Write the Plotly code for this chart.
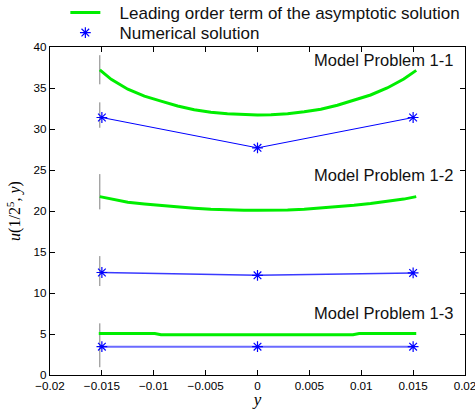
import plotly.graph_objects as go

# ---- data ----
y_num = [-0.015, 0.0, 0.015]
u_num_11 = [31.4, 27.7, 31.4]
u_num_12 = [12.5, 12.15, 12.45]
u_num_13 = [3.45, 3.45, 3.45]

y_asym = [-0.0152, -0.0141, -0.0125, -0.0109, -0.0093, -0.0077, -0.0061, -0.0045,
          -0.0029, -0.0013, 0.0, 0.0013, 0.0029, 0.0045, 0.0061, 0.0077,
          0.0093, 0.0109, 0.0125, 0.0141, 0.0153]
u_asym_11 = [37.2, 36.05, 34.85, 34.0, 33.4, 32.8, 32.35, 32.05,
             31.85, 31.75, 31.72, 31.75, 31.87, 32.1, 32.42, 32.9,
             33.5, 34.15, 35.0, 36.1, 37.15]
u_asym_12 = [21.75, 21.45, 21.06, 20.85, 20.65, 20.48, 20.33, 20.2,
             20.12, 20.09, 20.08, 20.09, 20.13, 20.22, 20.35, 20.5,
             20.7, 20.92, 21.15, 21.45, 21.75]
y_asym_13 = [-0.0153, -0.0099, -0.0093, 0.0, 0.0092, 0.0098, 0.0153]
u_asym_13 = [5.05, 5.05, 4.9, 4.9, 4.9, 5.05, 5.05]

gray_x = -0.0152
gray_segments = [(35.45, 39.0), (30.15, 33.25), (20.2, 24.5), (10.85, 14.5), (0.95, 6.3)]

labels = ["Model Problem 1-1", "Model Problem 1-2", "Model Problem 1-3"]
label_y = [38.4, 24.4, 7.6]

x_ticks = [-0.02, -0.015, -0.01, -0.005, 0, 0.005, 0.01, 0.015, 0.02]
x_ticktext = ["\u22120.02", "\u22120.015", "\u22120.01", "\u22120.005", "0",
              "0.005", "0.01", "0.015", "0.02"]
y_ticks = [0, 5, 10, 15, 20, 25, 30, 35, 40]

GREEN = "#00ee00"
BLUE = "#0000ff"
SP = "\u00a0\u00a0\u00a0"

fig = go.Figure()

# gray vertical markers
gx, gy = [], []
for lo, hi in gray_segments:
    gx += [gray_x, gray_x, None]
    gy += [lo, hi, None]
fig.add_trace(go.Scatter(x=gx, y=gy, mode="lines",
                         line=dict(color="#7f7f7f", width=1),
                         showlegend=False, hoverinfo="skip"))

# asymptotic curves
for i, (xs, ys) in enumerate([(y_asym, u_asym_11), (y_asym, u_asym_12), (y_asym_13, u_asym_13)]):
    fig.add_trace(go.Scatter(x=xs, y=ys, mode="lines",
                             line=dict(color=GREEN, width=3),
                             name=SP + "Leading order term of the asymptotic solution",
                             showlegend=(i == 0), legend="legend"))

# numerical
for i, (ys, w, c) in enumerate([(u_num_11, 1, BLUE), (u_num_12, 1.5, "#3a3aff"), (u_num_13, 2, "#6a6aff")]):
    fig.add_trace(go.Scatter(x=y_num, y=ys, mode="lines",
                             line=dict(color=c, width=w),
                             showlegend=False, hoverinfo="skip"))
    fig.add_trace(go.Scatter(x=y_num, y=ys, mode="markers",
                             marker=dict(symbol="asterisk-open", size=9, color=BLUE,
                                         line=dict(color=BLUE, width=1.2)),
                             name=SP + "Numerical solution",
                             showlegend=(i == 0), legend="legend2"))

for t, yy in zip(labels, label_y):
    fig.add_annotation(x=0.019, y=yy, text=t, showarrow=False,
                       xanchor="right", yanchor="middle",
                       font=dict(size=16.5, color="#111111",
                                 family="Liberation Sans, Arial, sans-serif"))

leg_common = dict(xanchor="left", yanchor="middle", bgcolor="rgba(0,0,0,0)",
                  itemwidth=30, font=dict(size=17, color="#111111"))
fig.update_layout(
    width=475, height=409,
    margin=dict(l=50, r=10, t=47, b=34, autoexpand=False),
    paper_bgcolor="white", plot_bgcolor="white",
    font=dict(family="Liberation Sans, Arial, sans-serif", color="black", size=11.7),
    legend=dict(x=0.037, y=1.1037, **leg_common),
    legend2=dict(x=0.037, y=1.0427, **leg_common),
    showlegend=True,
)
fig.update_xaxes(range=[-0.02, 0.02], tickvals=x_ticks, ticktext=x_ticktext,
                 ticklabeloverflow="allow",
                 showgrid=False, zeroline=False,
                 showline=True, linecolor="black", linewidth=1.3, mirror="ticks",
                 ticks="inside", ticklen=5, tickcolor="black",
                 title=dict(text="<i>y</i>", standoff=4,
                            font=dict(family="Liberation Serif, serif", size=17)))
fig.update_yaxes(range=[0, 40], tickvals=y_ticks,
                 showgrid=False, zeroline=False,
                 showline=True, linecolor="black", linewidth=1.3, mirror="ticks",
                 ticks="inside", ticklen=5, tickcolor="black",
                 title=dict(text="<i>u</i>(1/2<sup>5</sup>, <i>y</i>)", standoff=8,
                            font=dict(family="Liberation Serif, serif", size=16)))

fig.write_html("out.html")
